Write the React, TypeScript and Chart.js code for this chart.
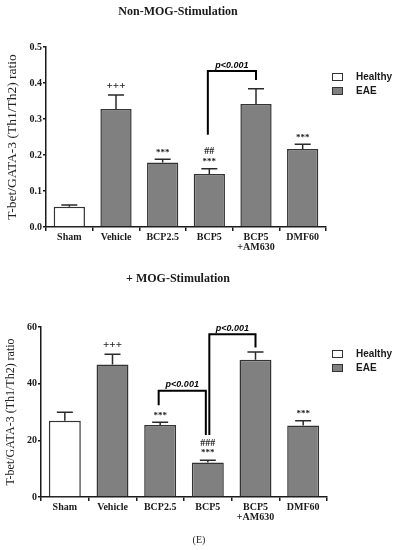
import React, { useEffect, useRef } from 'react';
import { Chart, registerables } from 'chart.js';

Chart.register(...registerables);

// ---------- data ----------
const categories: (string | string[])[] = ['Sham', 'Vehicle', 'BCP2.5', 'BCP5', ['BCP5', '+AM630'], 'DMF60'];
const groupOf = ['Healthy', 'EAE', 'EAE', 'EAE', 'EAE', 'EAE'];
const legendGroups = ['Healthy', 'EAE'];

const nonMogMeans = [0.056, 0.328, 0.179, 0.147, 0.342, 0.217];
const nonMogErrors = [0.005, 0.039, 0.009, 0.015, 0.042, 0.013];
const nonMogMarks = [[], ['+++'], ['***'], ['***', '##'], [], ['***']];
const nonMogTicks = ['0.0', '0.1', '0.2', '0.3', '0.4', '0.5'];
const nonMogBrackets = [
  { from: 3, to: 4, top: 0.433, leftEnd: 0.256, rightEnd: 0.408, label: 'p<0.001' },
];

const mogMeans = [26.9, 46.8, 25.4, 12.2, 48.4, 25.2];
const mogErrors = [3.0, 3.6, 1.0, 0.8, 2.8, 1.7];
const mogMarks = [[], ['+++'], ['***'], ['***', '###'], [], ['***']];
const mogTicks = ['0', '20', '40', '60'];
const mogBrackets = [
  { from: 2, to: 3, top: 37.5, leftEnd: 32.4, rightEnd: 21.9, label: 'p<0.001' },
  { from: 3, to: 4, top: 57.4, leftEnd: 21.9, rightEnd: 52.8, label: 'p<0.001' },
];

const yTitle = 'T-bet/GATA-3 (Th1/Th2) ratio';

// ---------- styles ----------
const SERIF = '"Liberation Serif", "Times New Roman", serif';
const SANS = '"Liberation Sans", Arial, sans-serif';
const INK = '#1a1a1a';
const BAR_GRAY = '#808080';
const W = 399;

type Area = { left: number; right: number; top: number; bottom: number };

type PanelProps = {
  top: number;
  height: number;
  title: string;
  means: number[];
  errors: number[];
  marks: string[][];
  brackets: { from: number; to: number; top: number; leftEnd: number; rightEnd: number; label: string }[];
  yMax: number;
  yStep: number;
  yTicks: string[];
  area: Area;
  titleY: number;
  legendY: number;
  yTitleSize: number;
  yTitlePad: number;
  footer?: { text: string; y: number };
};

function BarPanel(p: PanelProps) {
  const ref = useRef<HTMLCanvasElement | null>(null);

  useEffect(() => {
    if (!ref.current) return;
    const colorFor = (g: string) => (g === 'Healthy' ? '#ffffff' : BAR_GRAY);

    const annot = {
      id: 'annot' + p.title.length,
      afterDraw(chart: any) {
        const ctx = chart.ctx as CanvasRenderingContext2D;
        const xs = chart.scales.x;
        const ys = chart.scales.y;
        ctx.save();
        // error bars + significance marks
        p.means.forEach((m, i) => {
          const cx = xs.getPixelForValue(i);
          const y0 = ys.getPixelForValue(m);
          const y1 = ys.getPixelForValue(m + p.errors[i]);
          ctx.strokeStyle = '#2a2a2a';
          ctx.lineWidth = 1.5;
          ctx.beginPath();
          ctx.moveTo(cx, y0);
          ctx.lineTo(cx, y1);
          ctx.moveTo(cx - 8, y1);
          ctx.lineTo(cx + 8, y1);
          ctx.stroke();
          ctx.fillStyle = INK;
          ctx.textAlign = 'center';
          ctx.textBaseline = 'middle';
          p.marks[i].forEach((t, k) => {
            const size = t.startsWith('+') ? 11 : t.startsWith('#') ? 10 : 9;
            ctx.font = `bold ${size}px ${SERIF}`;
            const dy = t.startsWith('+') ? 9 : 7;
            ctx.fillText(t, cx, y1 - dy - k * 10);
          });
        });
        // brackets
        p.brackets.forEach((b) => {
          const sharedL = p.brackets.some((o) => o !== b && o.to === b.from);
          const sharedR = p.brackets.some((o) => o !== b && o.from === b.to);
          const xl = xs.getPixelForValue(b.from) + (sharedL ? 1.5 : -1.5);
          const xr = xs.getPixelForValue(b.to) + (sharedR ? -2 : 0);
          const yt = ys.getPixelForValue(b.top);
          ctx.strokeStyle = '#000';
          ctx.lineWidth = 2;
          ctx.beginPath();
          ctx.moveTo(xl, ys.getPixelForValue(b.leftEnd));
          ctx.lineTo(xl, yt);
          ctx.lineTo(xr, yt);
          ctx.lineTo(xr, ys.getPixelForValue(b.rightEnd));
          ctx.stroke();
          ctx.fillStyle = '#000';
          ctx.font = `italic bold 9px ${SANS}`;
          ctx.textAlign = 'center';
          ctx.textBaseline = 'middle';
          ctx.fillText(b.label, (xl + xr) / 2, yt - 6);
        });
        // title
        ctx.fillStyle = INK;
        ctx.font = `bold 12px ${SERIF}`;
        ctx.textAlign = 'center';
        ctx.textBaseline = 'middle';
        ctx.fillText(p.title, 178, p.titleY);
        // legend
        legendGroups.forEach((g, k) => {
          const y = p.legendY + k * 14;
          ctx.fillStyle = colorFor(g);
          ctx.strokeStyle = '#333';
          ctx.lineWidth = 1;
          ctx.fillRect(332.5, y - 3.5, 10, 7);
          ctx.strokeRect(332.5, y - 3.5, 10, 7);
          ctx.fillStyle = INK;
          ctx.font = `bold 10px ${SANS}`;
          ctx.textAlign = 'left';
          ctx.textBaseline = 'middle';
          ctx.fillText(g, 356, y);
        });
        if (p.footer) {
          ctx.fillStyle = INK;
          ctx.font = `10px ${SERIF}`;
          ctx.textAlign = 'center';
          ctx.fillText(p.footer.text, 199, p.footer.y);
        }
        ctx.restore();
      },
    };

    const chart = new Chart(ref.current, {
      type: 'bar',
      data: {
        labels: categories as any,
        datasets: legendGroups.map((g) => ({
          label: g,
          data: p.means.map((v, i) => (groupOf[i] === g ? v : null)),
          backgroundColor: colorFor(g),
          borderColor: '#333333',
          borderWidth: 1.5,
          categoryPercentage: 1,
          barPercentage: 0.67,
        })),
      },
      options: {
        animation: false,
        responsive: false,
        devicePixelRatio: 1,
        layout: { padding: { top: p.area.top, right: W - p.area.right, left: 0, bottom: 0 } },
        plugins: {
          legend: { display: false },
          tooltip: { enabled: false },
          title: { display: false },
        },
        scales: {
          x: {
            stacked: true,
            offset: true,
            grid: { display: true, drawOnChartArea: false, drawTicks: true, tickLength: 4, color: INK, lineWidth: 1.5 },
            border: { display: true, color: INK, width: 1.5 },
            ticks: {
              color: INK,
              font: { family: SERIF, size: 10, weight: 'bold', lineHeight: 1.05 },
              padding: 1,
              maxRotation: 0,
              autoSkip: false,
            },
            afterFit: (s: any) => {
              s.height = p.height - p.area.bottom;
            },
          },
          y: {
            min: 0,
            max: p.yMax,
            grid: { display: true, drawOnChartArea: false, drawTicks: true, tickLength: 3, color: INK, lineWidth: 1.5 },
            border: { display: true, color: INK, width: 1.5 },
            ticks: {
              stepSize: p.yStep,
              color: INK,
              font: { family: SERIF, size: 10, weight: 'bold' },
              padding: 1,
              callback: (_v: any, i: number) => p.yTicks[i],
            },
            title: {
              display: true,
              text: yTitle,
              color: '#222',
              font: { family: SERIF, size: p.yTitleSize },
              padding: { top: p.yTitlePad, bottom: 0 },
            },
            afterFit: (s: any) => {
              s.width = p.area.left;
            },
          },
        },
      } as any,
      plugins: [annot],
    });
    return () => chart.destroy();
  }, []);

  return (
    <canvas
      ref={ref}
      width={W}
      height={p.height}
      style={{ position: 'absolute', left: 0, top: p.top, width: W, height: p.height, display: 'block' }}
    />
  );
}

export default function App() {
  return (
    <div style={{ position: 'absolute', left: 0, top: 0, width: W, height: 550, background: '#fff' }}>
      <BarPanel
        top={0}
        height={265}
        title="Non-MOG-Stimulation"
        means={nonMogMeans}
        errors={nonMogErrors}
        marks={nonMogMarks}
        brackets={nonMogBrackets}
        yMax={0.5}
        yStep={0.1}
        yTicks={nonMogTicks}
        area={{ left: 46, right: 326, top: 47, bottom: 227 }}
        titleY={12}
        legendY={77}
        yTitleSize={13.5}
        yTitlePad={4.4}
      />
      <BarPanel
        top={265}
        height={285}
        title="+ MOG-Stimulation"
        means={mogMeans}
        errors={mogErrors}
        marks={mogMarks}
        brackets={mogBrackets}
        yMax={60}
        yStep={20}
        yTicks={mogTicks}
        area={{ left: 41, right: 327, top: 62, bottom: 232 }}
        titleY={14}
        legendY={89}
        yTitleSize={12}
        yTitlePad={3.3}
        footer={{ text: '(E)', y: 275 }}
      />
    </div>
  );
}
